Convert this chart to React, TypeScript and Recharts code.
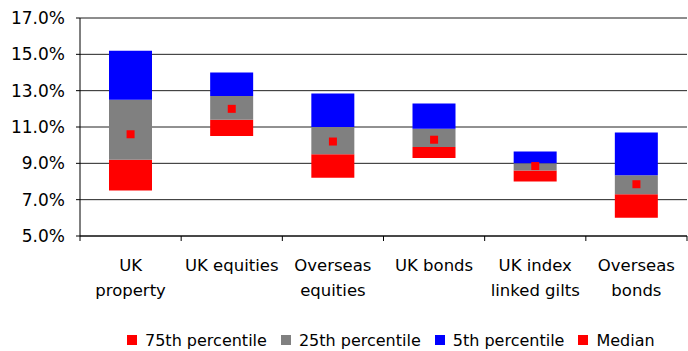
import {
  ComposedChart,
  Bar,
  Scatter,
  XAxis,
  YAxis,
  CartesianGrid,
  ReferenceLine,
  Legend,
} from 'recharts';

const assets = ['UK\nproperty', 'UK equities', 'Overseas\nequities', 'UK bonds', 'UK index\nlinked gilts', 'Overseas\nbonds'];

// band edges, % return
const lowerBound = [7.5, 10.5, 8.2, 9.3, 8.0, 6.0];
const pct75 = [9.2, 11.4, 9.5, 9.9, 8.6, 7.3];
const pct25 = [12.5, 12.7, 11.0, 10.9, 9.0, 8.35];
const pct5 = [15.2, 14.0, 12.85, 12.3, 9.65, 10.7];
const median = [10.6, 12.0, 10.2, 10.3, 8.85, 7.85];

const yTicks = [5, 7, 9, 11, 13, 15, 17];

const RED = '#ff0000';
const GREY = '#808080';
const BLUE = '#0000ff';
const FONT = '"DejaVu Sans", Verdana, sans-serif';

const data = assets.map((name, i) => ({
  name,
  base: lowerBound[i],
  red: +(pct75[i] - lowerBound[i]).toFixed(2),
  grey: +(pct25[i] - pct75[i]).toFixed(2),
  blue: +(pct5[i] - pct25[i]).toFixed(2),
  median: median[i],
}));

const legendItems = [
  { label: '75th percentile', color: RED },
  { label: '25th percentile', color: GREY },
  { label: '5th percentile', color: BLUE },
  { label: 'Median', color: RED },
];

// category label plus tick marks on the category boundaries
function CategoryTick(props: any) {
  const { x, y, payload, index, visibleTicksCount } = props;
  const half = payload.offset ?? 0;
  const lines = String(payload.value).split('\n');
  const last = index === visibleTicksCount - 1;
  return (
    <g>
      <line x1={x - half} x2={x - half} y1={y} y2={y + 5} stroke="#000" />
      {last && <line x1={x + half} x2={x + half} y1={y} y2={y + 5} stroke="#000" />}
      <text x={x} y={y} textAnchor="middle" fontFamily={FONT} fontSize={16.5} fill="#000">
        {lines.map((line, i) => (
          <tspan key={i} x={x} dy={i === 0 ? 35 : 25}>
            {line}
          </tspan>
        ))}
      </text>
    </g>
  );
}

function MedianMark(props: any) {
  const { cx, cy } = props;
  return <rect x={cx - 4} y={cy - 4} width={8} height={8} fill={RED} />;
}

function LegendRow() {
  return (
    <div
      style={{
        position: 'relative',
        top: 4,
        display: 'flex',
        alignItems: 'center',
        paddingLeft: 127,
        height: 30,
        fontFamily: FONT,
        fontSize: 16,
        color: '#000',
      }}
    >
      {legendItems.map((item) => (
        <div key={item.label} style={{ display: 'flex', alignItems: 'center', marginRight: 14 }}>
          <span style={{ width: 10, height: 10, background: item.color, marginRight: 8 }} />
          <span>{item.label}</span>
        </div>
      ))}
    </div>
  );
}

export default function App() {
  return (
    <div style={{ position: 'absolute', left: 0, top: 0, background: '#fff' }}>
      <ComposedChart width={688} height={351} data={data} margin={{ top: 18, right: 1, left: 0, bottom: 0 }}>
        <CartesianGrid vertical={false} stroke="#222" />
        <ReferenceLine y={17} stroke="#888" />
        <XAxis
          dataKey="name"
          interval={0}
          stroke="#000"
          tickLine={false}
          tickSize={0}
          tickMargin={0}
          height={85}
          tick={<CategoryTick />}
        />
        <YAxis
          domain={[5, 17]}
          allowDataOverflow
          ticks={yTicks}
          width={80}
          tickSize={4}
          tickMargin={11}
          stroke="#000"
          tickFormatter={(v: number) => v.toFixed(1) + '%'}
          tick={{ fill: '#000', fontFamily: FONT, fontSize: 17 }}
        />
        <Bar dataKey="base" stackId="band" fill="transparent" barSize={43} isAnimationActive={false} legendType="none" />
        <Bar dataKey="red" stackId="band" fill={RED} barSize={43} isAnimationActive={false} />
        <Bar dataKey="grey" stackId="band" fill={GREY} barSize={43} isAnimationActive={false} />
        <Bar dataKey="blue" stackId="band" fill={BLUE} barSize={43} isAnimationActive={false} />
        <Scatter dataKey="median" fill={RED} shape={<MedianMark />} isAnimationActive={false} />
        <Legend verticalAlign="bottom" content={() => <LegendRow />} wrapperStyle={{ left: 0, width: 688 }} />
      </ComposedChart>
    </div>
  );
}
